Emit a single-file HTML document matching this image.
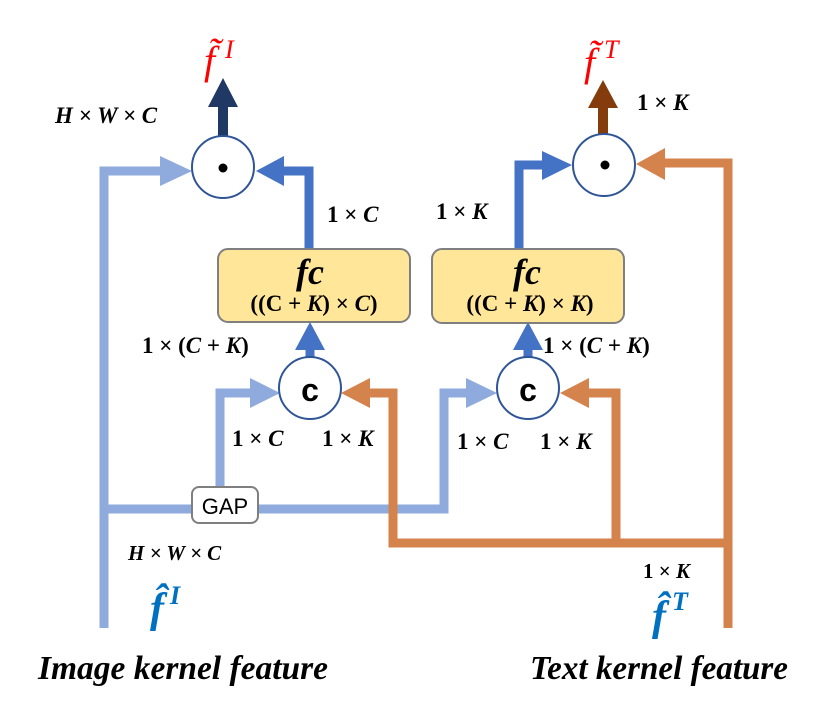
<!DOCTYPE html>
<html><head><meta charset="utf-8"><style>
html,body{margin:0;padding:0;background:#fff;}
svg{display:block;}
.m{font-family:"Liberation Serif",serif;font-weight:bold;font-style:italic;fill:#000;}
.n{font-style:normal;}
</style></head><body>
<svg width="830" height="718" viewBox="0 0 830 718" xmlns="http://www.w3.org/2000/svg">
<g fill="none" stroke-linejoin="miter">
<polyline points="104,628 104,171 165,171" stroke="#8faadc" stroke-width="9"/>
<polygon points="160,156 192,171 160,186" fill="#8faadc"/>
<polyline points="104,509 444,509 444,393 470,393" stroke="#8faadc" stroke-width="9"/>
<polygon points="466,378 497,393 466,408" fill="#8faadc"/>
<polyline points="220,490 220,393 255,393" stroke="#8faadc" stroke-width="9"/>
<polygon points="250,378 280,393 250,408" fill="#8faadc"/>
<polyline points="393,393 393,543 728,543" stroke="#d4834c" stroke-width="9"/>
<polyline points="393,397 393,393 365,393" stroke="#d4834c" stroke-width="9"/>
<polygon points="370,378 341,393 370,408" fill="#d4834c"/>
<polyline points="616,543 616,393 585,393" stroke="#d4834c" stroke-width="9"/>
<polygon points="589,378 560,393 589,408" fill="#d4834c"/>
<polyline points="728,628 728,163 660,163" stroke="#d4834c" stroke-width="9"/>
<polygon points="665,148 636,164 665,180" fill="#d4834c"/>
<polyline points="309,250 309,171 280,171" stroke="#4472c4" stroke-width="9"/>
<polygon points="284,156 256,171 284,186" fill="#4472c4"/>
<polyline points="519,250 519,165 547,165" stroke="#4472c4" stroke-width="9"/>
<polygon points="542,151 572,165 542,180" fill="#4472c4"/>
<line x1="310" y1="358" x2="310" y2="345" stroke="#4472c4" stroke-width="9"/>
<polygon points="295,350 310,322 325,350" fill="#4472c4"/>
<line x1="528" y1="358" x2="528" y2="345" stroke="#4472c4" stroke-width="9"/>
<polygon points="513,350 528,322 543,350" fill="#4472c4"/>
<line x1="223" y1="137" x2="223" y2="104" stroke="#203864" stroke-width="10"/>
<polygon points="208,107 223,78 238,107" fill="#203864"/>
<line x1="603" y1="134" x2="603" y2="104" stroke="#843c0c" stroke-width="10"/>
<polygon points="588,108 603,80 618,108" fill="#843c0c"/>
</g>
<rect x="218" y="249" width="192" height="73" rx="10" fill="#ffe699" stroke="#7f7f7f" stroke-width="2"/>
<rect x="432" y="249" width="192" height="74" rx="10" fill="#ffe699" stroke="#7f7f7f" stroke-width="2"/>
<rect x="192" y="487" width="66" height="36" rx="7" fill="#fff" stroke="#7f7f7f" stroke-width="2"/>
<text x="225" y="514" text-anchor="middle" font-family="Liberation Sans,sans-serif" font-size="22" fill="#000">GAP</text>
<circle cx="223" cy="167" r="31" fill="#fff" stroke="#2f5597" stroke-width="2"/>
<circle cx="223" cy="168" r="4.5" fill="#000"/>
<circle cx="604" cy="165" r="31" fill="#fff" stroke="#2f5597" stroke-width="2"/>
<circle cx="605" cy="165" r="4.5" fill="#000"/>
<circle cx="310" cy="388" r="31" fill="#fff" stroke="#2f5597" stroke-width="2"/>
<circle cx="528" cy="388" r="31" fill="#fff" stroke="#2f5597" stroke-width="2"/>
<text x="310" y="401" text-anchor="middle" font-family="Liberation Sans,sans-serif" font-weight="bold" font-size="32">c</text>
<text x="528" y="401" text-anchor="middle" font-family="Liberation Sans,sans-serif" font-weight="bold" font-size="32">c</text>
<text x="310" y="284" text-anchor="middle" class="m" style="font-size:36px">fc</text>
<text x="314" y="311" text-anchor="middle" class="m" style="font-size:23px"><tspan class="n">((C + </tspan>K<tspan class="n">) × </tspan>C<tspan class="n">)</tspan></text>
<text x="527" y="284" text-anchor="middle" class="m" style="font-size:36px">fc</text>
<text x="530" y="311" text-anchor="middle" class="m" style="font-size:23px"><tspan class="n">((C + </tspan>K<tspan class="n">) × </tspan>K<tspan class="n">)</tspan></text>
<g style="font-size:23px">
<text x="55" y="123" class="m" style="font-size:23px">H × W × C</text>
<text x="327" y="222" class="m" style="font-size:23px"><tspan class="n">1 × </tspan>C</text>
<text x="436" y="219" class="m" style="font-size:23px"><tspan class="n">1 × </tspan>K</text>
<text x="637" y="110" class="m" style="font-size:23px"><tspan class="n">1 × </tspan>K</text>
<text x="142" y="353" class="m" style="font-size:23px"><tspan class="n">1 × (</tspan>C<tspan class="n"> + </tspan>K<tspan class="n">)</tspan></text>
<text x="543" y="353" class="m" style="font-size:23px"><tspan class="n">1 × (</tspan>C<tspan class="n"> + </tspan>K<tspan class="n">)</tspan></text>
<text x="232" y="446" class="m" style="font-size:23px"><tspan class="n">1 × </tspan>C</text>
<text x="322" y="446" class="m" style="font-size:23px"><tspan class="n">1 × </tspan>K</text>
<text x="457" y="449" class="m" style="font-size:23px"><tspan class="n">1 × </tspan>C</text>
<text x="540" y="449" class="m" style="font-size:23px"><tspan class="n">1 × </tspan>K</text>
<text x="128" y="560" class="m" style="font-size:21px">H × W × C</text>
<text x="643" y="578" class="m" style="font-size:21px"><tspan class="n">1 × </tspan>K</text>
</g>
<text x="204" y="74" font-family="Liberation Serif,serif" font-style="italic" font-size="40" fill="#ff0000">f̃</text>
<text x="225" y="58" font-family="Liberation Serif,serif" font-style="italic" font-size="26" fill="#ff0000">I</text>
<text x="584" y="76" font-family="Liberation Serif,serif" font-style="italic" font-size="40" fill="#ff0000">f̃</text>
<text x="604" y="58" font-family="Liberation Serif,serif" font-style="italic" font-size="26" fill="#ff0000">T</text>
<text x="150" y="622" font-family="Liberation Serif,serif" font-weight="bold" font-style="italic" font-size="42" fill="#0070c0">f̂</text>
<text x="170" y="604" font-family="Liberation Serif,serif" font-weight="bold" font-style="italic" font-size="26" fill="#0070c0">I</text>
<text x="652" y="630" font-family="Liberation Serif,serif" font-weight="bold" font-style="italic" font-size="42" fill="#0070c0">f̂</text>
<text x="672" y="610" font-family="Liberation Serif,serif" font-weight="bold" font-style="italic" font-size="26" fill="#0070c0">T</text>
<text x="38" y="679" class="m" style="font-size:34px" textLength="290" lengthAdjust="spacingAndGlyphs">Image kernel feature</text>
<text x="530" y="679" class="m" style="font-size:34px" textLength="258" lengthAdjust="spacingAndGlyphs">Text kernel feature</text>
</svg>
</body></html>
